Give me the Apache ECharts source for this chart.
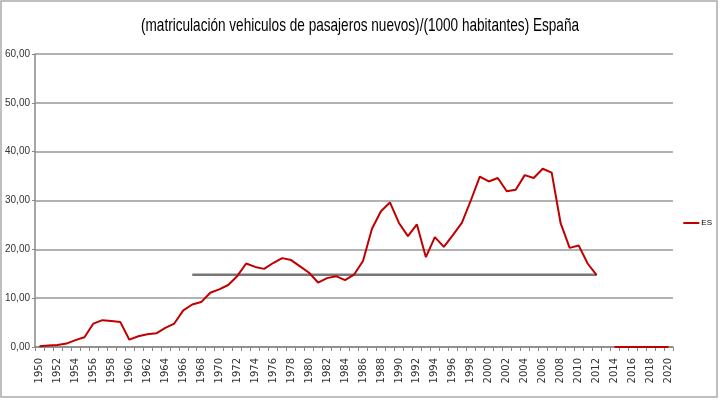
<!DOCTYPE html>
<html><head><meta charset="utf-8">
<script src="https://cdn.jsdelivr.net/npm/echarts@6/dist/echarts.min.js"></script>
<style>html,body{margin:0;padding:0;background:#fff}#c{width:720px;height:400px}</style>
</head><body><div id="c"></div>
<script>
var titleText = '(matriculación vehiculos de pasajeros nuevos)/(1000 habitantes) España';
var years = [];
for (var y = 1950; y <= 2020; y++) years.push(String(y));
var esValues = [0.15,0.3,0.4,0.7,1.4,2.0,4.8,5.5,5.3,5.1,
  1.5,2.2,2.6,2.8,3.9,4.8,7.5,8.7,9.2,11.1,
  11.8,12.7,14.5,17.1,16.4,16.0,17.2,18.2,17.8,16.5,
  15.2,13.2,14.1,14.5,13.7,14.8,17.6,24.2,27.8,29.6,
  25.4,22.7,25.1,18.4,22.5,20.5,22.9,25.4,30.0,34.9,
  33.9,34.6,31.9,32.2,35.2,34.6,36.5,35.7,25.3,20.3,
  20.8,17.1,14.7,null,0,0,0,0,0,0,0];
var trendStart = '1967', trendEnd = '2012', trendValue = 14.8;
var trendValues = years.map(function(y){ return (+y >= +trendStart && +y <= +trendEnd) ? trendValue : null; });

var titleFont = '19px "Liberation Sans"';
var cv = document.createElement('canvas').getContext('2d');
cv.font = titleFont;
var titleScale = 438 / cv.measureText(titleText).width;

var chart = echarts.init(document.getElementById('c'), null, {renderer:'canvas'});
chart.setOption({
  backgroundColor:'#fff',
  animation:false,
  graphic:[
    {type:'rect', shape:{x:1,y:1,width:716,height:396}, style:{fill:'none', stroke:'#aaa', lineWidth:1.5}, silent:true},
    {type:'text', x:360, y:26, scaleX:titleScale, scaleY:1,
      style:{text:titleText, font:titleFont, fill:'#000', textAlign:'center', textVerticalAlign:'middle'}, silent:true}
  ],
  legend:{data:[{name:'ES'}], orient:'vertical', right:3, top:214, icon:'rect', itemWidth:16, itemHeight:2, itemGap:4,
    textStyle:{fontFamily:'Liberation Sans', fontSize:8, color:'#000', padding:[0,0,0,-3]}},
  grid:{left:35, right:47, top:54, bottom:53},
  xAxis:{type:'category', data:years, boundaryGap:true,
    axisLine:{lineStyle:{color:'#888', width:1.5}},
    axisTick:{show:true, interval:0, length:4, lineStyle:{color:'#888'}},
    axisLabel:{interval:1, rotate:90, fontFamily:'DejaVu Sans', fontSize:10, color:'#333', margin:11},
    splitLine:{show:false}},
  yAxis:{type:'value', min:0, max:60, interval:10,
    axisLine:{show:true, lineStyle:{color:'#888', width:1.5}},
    axisTick:{show:true, length:3, lineStyle:{color:'#888'}},
    axisLabel:{formatter:function(v){return v.toFixed(2).replace('.',',');}, fontFamily:'Liberation Sans', fontSize:10, color:'#333', margin:5},
    splitLine:{show:true, lineStyle:{color:'#999', width:1.5}}},
  series:[
    {name:'trend', type:'line', data:trendValues, symbol:'none', connectNulls:false, silent:true,
      lineStyle:{color:'#777', width:2.5}, z:2},
    {name:'ES', type:'line', data:esValues, symbol:'none', connectNulls:false,
      itemStyle:{color:'#c00000'}, lineStyle:{color:'#c00000', width:2}, z:3}
  ]
});
</script></body></html>
